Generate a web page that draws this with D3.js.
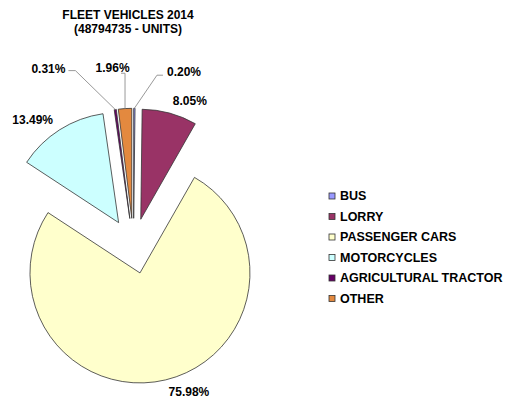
<!DOCTYPE html>
<html>
<head>
  <title>Fleet Vehicles 2014</title>
  <script src="https://d3js.org/d3.v7.min.js"></script>
  <style>
    body { margin: 0; background: #fff; }
    text { font-family: "Liberation Sans", Arial, sans-serif; font-weight: bold; fill: #000; }
  </style>
</head>
<body>

<div id="chart"></div>

<script>
// data
const categories = ["BUS", "LORRY", "PASSENGER CARS", "MOTORCYCLES", "AGRICULTURAL TRACTOR", "OTHER"];
const shares = [0.20, 8.05, 75.98, 13.49, 0.31, 1.96];
const colors = ["#9999FF", "#993366", "#FFFFCC", "#CCFFFF", "#660066", "#E3893F"];
const titleLines = ["FLEET VEHICLES 2014", "(48794735 - UNITS)"];

// hand-placed labels for the thin slices: [angle deg, radius] from the centre
const calloutSlices = { "BUS": [10.9, 177], "OTHER": [-6.7, 179], "AGRICULTURAL TRACTOR": [-21, 190] };

const width = 506;
const height = 402;
const cx = 133.5, cy = 246;
const radius = 110;
const explode = 27.7;
const labelRadius = 150;

const svg = d3.select("#chart")
  .append("svg")
  .attr("width", width)
  .attr("height", height);

// title
svg.append("g").selectAll("text")
  .data(titleLines)
  .enter()
  .append("text")
  .attr("x", 128)
  .attr("y", (d, i) => 19 + i * 14)
  .attr("text-anchor", "middle")
  .style("font-size", "12px")
  .text(d => d);

const data = categories.map((c, i) => ({ label: c, value: shares[i], color: colors[i] }));

const pie = d3.pie()
  .sort(null)
  .startAngle(0)
  .value(d => d.value);

const arc = d3.arc()
  .innerRadius(0)
  .outerRadius(radius);

const g = svg.append("g")
  .attr("transform", `translate(${cx},${cy})`);

const mid = d => (d.startAngle + d.endAngle) / 2;
const dir = a => [Math.sin(a), -Math.cos(a)];

const slices = g.selectAll(".slice")
  .data(pie(data))
  .enter()
  .append("g")
  .attr("class", "slice")
  .attr("transform", d => {
    const [x, y] = dir(mid(d));
    return `translate(${x * explode},${y * explode})`;
  });

slices.append("path")
  .attr("d", arc)
  .attr("fill", d => d.data.color)
  .attr("stroke", "#333")
  .attr("stroke-width", 0.8);

// labels
pie(data).forEach(d => {
  const pct = d.data.value.toFixed(2) + "%";
  const call = calloutSlices[d.data.label];
  if (!call) {
    const [x, y] = dir(mid(d));
    g.append("text")
      .attr("x", x * labelRadius)
      .attr("y", y * labelRadius)
      .attr("dy", "0.35em")
      .attr("text-anchor", x >= 0 ? "start" : "end")
      .style("font-size", "12px")
      .text(pct);
    return;
  }
  // leader line from the outer edge of the exploded slice to the label
  const [mx, my] = dir(mid(d));
  const ex = mx * (explode + radius), ey = my * (explode + radius);
  const la = call[0] * Math.PI / 180;
  const [lx0, ly0] = dir(la);
  const lx = lx0 * call[1], ly = ly0 * call[1];
  let pts, anchor;
  if (lx < -40) {
    pts = [[ex, ey], [lx + 10, ly + 2], [lx + 3, ly + 2]];
    anchor = "end";
  } else if (lx < 0) {
    pts = [[ex, ey], [ex, ly + 5], [ex - 4, ly + 5]];
    anchor = "middle";
  } else {
    pts = [[ex, ey], [lx - 10, ly + 3], [lx - 4, ly + 3]];
    anchor = "start";
  }
  g.append("polyline")
    .attr("points", pts.map(p => p.join(",")).join(" "))
    .attr("fill", "none")
    .attr("stroke", "#999")
    .attr("stroke-width", 1);
  g.append("text")
    .attr("x", lx)
    .attr("y", ly)
    .attr("dy", "0.35em")
    .attr("text-anchor", anchor)
    .style("font-size", "12px")
    .text(pct);
});

// legend
const legend = svg.append("g")
  .attr("transform", "translate(329,196)");

const rows = legend.selectAll("g")
  .data(data)
  .enter()
  .append("g")
  .attr("transform", (d, i) => `translate(0,${i * 20.5})`);

rows.append("rect")
  .attr("x", 0)
  .attr("y", -3)
  .attr("width", 6)
  .attr("height", 6)
  .attr("fill", d => d.color)
  .attr("stroke", "#333")
  .attr("stroke-width", 0.8);

rows.append("text")
  .attr("x", 11)
  .attr("dy", "0.35em")
  .style("font-size", "12.5px")
  .text(d => d.label);
</script>

</body>
</html>
